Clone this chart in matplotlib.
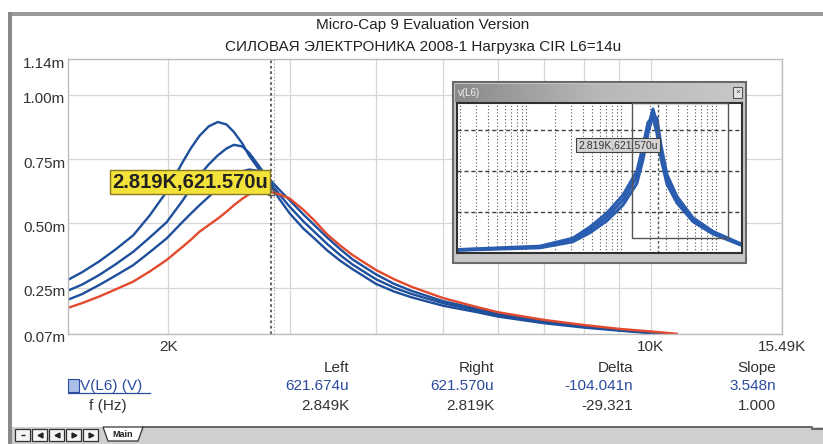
import numpy as np
import matplotlib
matplotlib.use('Agg')
import matplotlib.pyplot as plt
from matplotlib.patches import Rectangle, Polygon
from matplotlib.lines import Line2D
from matplotlib.ticker import FixedLocator, NullFormatter, LogLocator
from matplotlib.colors import LinearSegmentedColormap
from matplotlib.transforms import ScaledTranslation

plt.rcParams['font.family'] = ['Liberation Sans', 'DejaVu Sans']

# main sweep: V(L6) in mV against f in Hz, four stepped runs
freq = [1430, 1500, 1590, 1680, 1780, 1880, 1990, 2100, 2160, 2220, 2290, 2360, 2430,
        2490, 2560, 2620, 2700, 2770, 2820, 2900, 3000, 3140, 3250, 3400, 3550, 3700,
        4000, 4250, 4500, 5000, 5600, 6000, 7000, 8000, 9000, 10000, 10900]
v_run1 = [0.280, 0.310, 0.353, 0.400, 0.454, 0.531, 0.624, 0.740, 0.795, 0.841, 0.878, 0.895, 0.885,
          0.856, 0.812, 0.764, 0.715, 0.674, 0.645, 0.594, 0.539, 0.480, 0.444, 0.395, 0.355, 0.322,
          0.265, 0.235, 0.213, 0.180, 0.155, 0.138, 0.112, 0.095, 0.083, 0.073, 0.064]
v_run2 = [0.238, 0.262, 0.300, 0.342, 0.390, 0.445, 0.505, 0.590, 0.640, 0.687, 0.730, 0.765, 0.792,
          0.806, 0.800, 0.775, 0.728, 0.685, 0.655, 0.612, 0.565, 0.508, 0.470, 0.420, 0.377, 0.340,
          0.283, 0.250, 0.226, 0.190, 0.162, 0.144, 0.116, 0.098, 0.085, 0.075, 0.066]
v_run3 = [0.203, 0.225, 0.261, 0.298, 0.338, 0.388, 0.442, 0.507, 0.540, 0.571, 0.604, 0.636, 0.664,
          0.687, 0.703, 0.710, 0.705, 0.690, 0.666, 0.630, 0.590, 0.535, 0.496, 0.445, 0.400, 0.360,
          0.302, 0.265, 0.238, 0.198, 0.168, 0.149, 0.120, 0.101, 0.087, 0.077, 0.068]
v_run4 = [0.171, 0.190, 0.216, 0.244, 0.274, 0.313, 0.358, 0.410, 0.438, 0.468, 0.494, 0.519, 0.546,
          0.571, 0.596, 0.614, 0.623, 0.626, 0.622, 0.613, 0.597, 0.553, 0.514, 0.457, 0.414, 0.377,
          0.319, 0.283, 0.254, 0.210, 0.175, 0.155, 0.125, 0.105, 0.090, 0.080, 0.071]

y_ticks = [0.07, 0.25, 0.50, 0.75, 1.00, 1.14]
y_labels = ['0.07m', '0.25m', '0.50m', '0.75m', '1.00m', '1.14m']
x_ticks = [2000, 10000, 15490]
x_labels = ['2K', '10K', '15.49K']
x_grid = [3000, 4000, 5000, 6000, 7000, 8000, 9000]

cursor_left = 2849
cursor_right = 2819
cursor_value = 0.62157
cursor_text = '2.819K,621.570u'

# small preview window (wide sweep)
freq_in = [188, 1400, 3100, 4700, 7100, 10500, 14700, 17000, 19300, 21700, 23900,
           26400, 30500, 38800, 57300, 93000, 188000]
in_run1 = [0.022, 0.044, 0.095, 0.169, 0.264, 0.389, 0.557, 0.733, 0.924, 1.056, 0.953,
           0.733, 0.535, 0.389, 0.242, 0.147, 0.059]
in_run2 = [0.020, 0.038, 0.082, 0.148, 0.236, 0.352, 0.510, 0.680, 0.880, 1.010, 0.990,
           0.790, 0.575, 0.415, 0.258, 0.158, 0.064]
in_run3 = [0.025, 0.050, 0.108, 0.190, 0.292, 0.425, 0.600, 0.780, 0.960, 0.990, 0.880,
           0.690, 0.505, 0.368, 0.230, 0.140, 0.055]
in_cursor = 24500

# cursor table
col_heads = ['Left', 'Right', 'Delta', 'Slope']
row_v = ['621.674u', '621.570u', '-104.041n', '3.548n']
row_f = ['2.849K', '2.819K', '-29.321', '1.000']

W, H = 823, 444
blue = '#1e4f9c'
red = '#e2492d'
txt_blue = '#2b4c9e'


def fx(x):
    return x / W


def fy(y):
    return 1 - y / H


def box(x0, y0, x1, y1):
    return [fx(x0), fy(y1), (x1 - x0) / W, (y1 - y0) / H]


def rect_px(fig, x0, y0, x1, y1, **kw):
    r = Rectangle((fx(x0), fy(y1)), (x1 - x0) / W, (y1 - y0) / H,
                  transform=fig.transFigure, **kw)
    fig.add_artist(r)
    return r


fig = plt.figure(figsize=(W / 100, H / 100), dpi=100, facecolor='white')

# window frame
rect_px(fig, 8, 12, 823, 16, facecolor='#9a9a9a', edgecolor='none', zorder=1)
rect_px(fig, 8, 12, 12, 444, facecolor='#8a8a8a', edgecolor='none', zorder=1)

fig.text(fx(423), fy(25), 'Micro-Cap 9 Evaluation Version', ha='center', va='center',
         fontsize=11, color='#222222')
fig.text(fx(423), fy(47), 'СИЛОВАЯ ЭЛЕКТРОНИКА 2008-1 Нагрузка CIR L6=14u',
         ha='center', va='center', fontsize=11, color='#222222')

# main plot
ax = fig.add_axes(box(68, 59, 782, 334))
ax.set_facecolor('white')
ax.set_xscale('log')
ax.plot(freq, v_run1, color=blue, lw=1.7)
ax.plot(freq, v_run2, color=blue, lw=1.7)
ax.plot(freq, v_run3, color=blue, lw=1.7)
ax.plot(freq, v_run4, color=red, lw=1.7)
ax.set_xlim(1432, 15490)
ax.set_ylim(0.07, 1.14)

ax.set_yticks(y_ticks)
ax.set_yticklabels(y_labels)
ax.xaxis.set_major_locator(FixedLocator(x_ticks))
ax.set_xticklabels(x_labels)
ax.xaxis.set_minor_locator(FixedLocator(x_grid))
ax.xaxis.set_minor_formatter(NullFormatter())
ax.tick_params(which='both', length=0, labelsize=11, colors='#333333')
ax.tick_params(axis='x', pad=4)
ax.tick_params(axis='y', pad=2)
shift = ScaledTranslation(0, -3 / 100, fig.dpi_scale_trans)
for lab in ax.get_yticklabels():
    lab.set_transform(lab.get_transform() + shift)
ax.grid(True, which='both', color='#d6d6d6', lw=0.9)
ax.set_axisbelow(True)
for s in ax.spines.values():
    s.set_color('#bdbdbd')
    s.set_linewidth(1)

ax.axvline(cursor_left, color='#8a8a8a', lw=0.8, ls=(0, (1, 2)))
ax.axvline(cursor_right, color='#555555', lw=1.3, ls=(0, (1.5, 1.5)))
ax.plot([cursor_right], [cursor_value], marker='s', ms=4, mfc='none', mec='#555555')
ax.text(2790, 0.661, cursor_text, ha='right', va='center', fontsize=14.5,
        fontweight='bold', color='#222222',
        bbox=dict(boxstyle='square,pad=0.12', fc='#f3e23a', ec='#8a7a20', lw=1))

# preview window
rect_px(fig, 453, 82, 746, 263, facecolor='#c8c8c8', edgecolor='#6a6a6a', lw=1.5, zorder=1)
ax_t = fig.add_axes(box(455, 84, 744, 102), zorder=2)
grad = LinearSegmentedColormap.from_list('tb', ['#8a8a8a', '#b8b8b8', '#c8c8c8'])
ax_t.imshow(np.linspace(0, 1, 200)[None, :], aspect='auto', cmap=grad)
ax_t.axis('off')
ax_t.text(0.01, 0.5, 'v(L6)', transform=ax_t.transAxes, ha='left', va='center',
          fontsize=7, color='#f2f2f2')
rect_px(fig, 733, 87, 742, 98, facecolor='#e4e4e4', edgecolor='#555555', lw=0.8, zorder=3)
fig.text(fx(737.5), fy(92.5), '×', ha='center', va='center', fontsize=6,
         color='#444444', zorder=4)

ax_i = fig.add_axes(box(457, 103, 742, 253), zorder=2)
ax_i.set_facecolor('white')
ax_i.set_xscale('log')
ax_i.set_xlim(188, 188000)
ax_i.set_ylim(0, 1.1)
ax_i.xaxis.set_major_locator(LogLocator(base=10))
ax_i.xaxis.set_minor_locator(LogLocator(base=10, subs=np.arange(2, 10)))
ax_i.set_yticks([0.3, 0.6, 0.9])
ax_i.tick_params(which='both', length=0, labelbottom=False, labelleft=False)
ax_i.grid(True, which='both', axis='x', color='#555555', lw=0.8, ls=(0, (1, 2)))
ax_i.grid(True, which='major', axis='y', color='#404040', lw=1.0, ls=(0, (3, 2)))
for s in ax_i.spines.values():
    s.set_color('#303030')
    s.set_linewidth(1.5)
for run in (in_run1, in_run2, in_run3):
    ax_i.plot(freq_in, run, color='#2a5db0', lw=2.2)
ax_i.axvline(in_cursor, color='#555555', lw=1, ls=(0, (2, 1.5)))
ax_i.text(in_cursor, 0.79, cursor_text, ha='right', va='center', fontsize=7.5,
          color='#333333',
          bbox=dict(boxstyle='square,pad=0.2', fc='#d4d4d4', ec='#404040', lw=0.8))
rect_px(fig, 632, 103, 728, 238, fill=False, edgecolor='#555555', lw=1, zorder=3)

# cursor table
col_x = [349, 494, 633, 776]
for cx, head, vv, vf in zip(col_x, col_heads, row_v, row_f):
    fig.text(fx(cx), fy(368), head, ha='right', va='center', fontsize=11, color='#333333')
    fig.text(fx(cx), fy(386), vv, ha='right', va='center', fontsize=11, color=txt_blue)
    fig.text(fx(cx), fy(406), vf, ha='right', va='center', fontsize=11, color='#333333')

rect_px(fig, 68, 379, 79, 392, facecolor='#a9bfe8', edgecolor=txt_blue, lw=0.8, zorder=1)
fig.text(fx(80), fy(386), 'V(L6) (V)', ha='left', va='center', fontsize=11, color=txt_blue)
fig.add_artist(Line2D([fx(68), fx(150)], [fy(393), fy(393)], color=txt_blue, lw=0.9,
                      transform=fig.transFigure))
fig.text(fx(108), fy(406), 'f (Hz)', ha='center', va='center', fontsize=11, color='#333333')

# bottom tab bar
rect_px(fig, 12, 427, 823, 444, facecolor='#cfcfcf', edgecolor='none', zorder=1)
fig.add_artist(Line2D([fx(143), fx(812)], [fy(427), fy(427)], color='#505050', lw=1.2,
                      transform=fig.transFigure))
fig.add_artist(Line2D([fx(812), fx(823)], [fy(429), fy(429)], color='#505050', lw=1.2,
                      transform=fig.transFigure))
glyphs = ['_', '<', '<', '>', '>']
for i, g in enumerate(glyphs):
    x0 = 15 + i * 17
    rect_px(fig, x0, 429, x0 + 15, 441, facecolor='#f4f4f4', edgecolor='#333333', lw=0.9,
            zorder=2)
    fig.add_artist(Line2D([fx(x0 + 7.5)], [fy(435)], marker=g, ms=3.5, color='#222222',
                          transform=fig.transFigure, zorder=3))
tab = Polygon([(fx(103), fy(427)), (fx(143), fy(427)), (fx(138), fy(441)), (fx(108), fy(441))],
              closed=True, transform=fig.transFigure, facecolor='white',
              edgecolor='#333333', lw=0.9, zorder=2)
fig.add_artist(tab)
fig.text(fx(123), fy(434), 'Main', ha='center', va='center', fontsize=6.5,
         fontweight='bold', color='#222222', zorder=3)

fig.savefig('out.png', dpi=100, facecolor='white')
